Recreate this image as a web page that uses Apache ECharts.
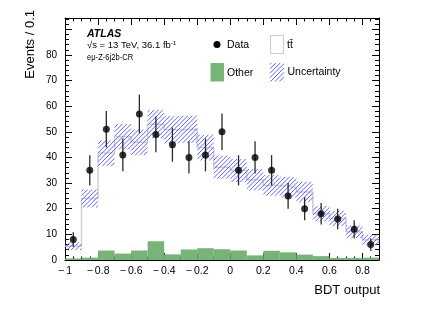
<!DOCTYPE html>
<html><head><meta charset="utf-8">
<script src="https://cdn.jsdelivr.net/npm/echarts@6/dist/echarts.min.js"></script>
<style>html,body{margin:0;padding:0;background:#fff}#c{width:432px;height:310px}</style>
</head><body><div id="c"></div>
<script>
// ---- data ----
const binEdges   = [-1,-0.9,-0.8,-0.7,-0.6,-0.5,-0.4,-0.3,-0.2,-0.1,0,0.1,0.2,0.3,0.4,0.5,0.6,0.7,0.8,0.9];
const dataCounts = [8,35,51,41,57,49,45,40,41,50,35,40,35,25,20,18,16,12,6];
const dataErr    = [2.8,5.9,7.1,6.4,7.5,7.0,6.7,6.3,6.4,7.1,5.9,6.3,5.9,5.0,4.5,4.2,4.0,3.5,2.4];
const totalPred  = [5.4,24,41.7,48.1,45.9,53,50.8,51,43.9,36.2,34.9,31.3,29.1,28.4,26.5,18.1,16.2,11,7.8];
const uncert     = [1.5,3.5,5,5,5,5.5,5.3,5.3,5,4.5,4.5,4.2,4,4,4,3,3,2.5,2];
const otherBkg   = [0.6,0.9,3.7,2.5,3.7,7.3,2.2,4.1,4.6,4.2,3.7,1.8,3.6,3.0,2.1,1.5,0.8,0.8,0.9];
const yTickMax = 80;

const FONT = 'Liberation Sans';
const HATCH_COLOR = '#6464ff';
const HATCH_STEP = 4.4;
const nb = dataCounts.length;
const lo = i => binEdges[i], hi = i => binEdges[i+1];
const centers = dataCounts.map((_, i) => (lo(i) + hi(i)) / 2);

// "/" hatch lines clipped to a pixel rectangle
function hatchLines(x0, y0, x1, y1) {
  const out = [];
  const cStart = Math.ceil((x0 + y0) / HATCH_STEP) * HATCH_STEP;
  for (let c = cStart; c <= x1 + y1; c += HATCH_STEP) {
    const ax = Math.max(x0, c - y1), bx = Math.min(x1, c - y0);
    if (bx - ax > 0.2) {
      out.push({type:'line', shape:{x1:ax, y1:c-ax, x2:bx, y2:c-bx},
                style:{stroke:HATCH_COLOR, lineWidth:1}});
    }
  }
  return out;
}

const stepPts = [];
for (let i = 0; i < nb; i++) { stepPts.push([lo(i), totalPred[i]]); stepPts.push([hi(i), totalPred[i]]); }

function rectItem(i, y0, y1, api, style) {
  const p0 = api.coord([lo(i), y0]);
  const p1 = api.coord([hi(i), y1]);
  return {type:'rect', shape:{x:p0[0], y:p1[1], width:p1[0]-p0[0], height:p0[1]-p1[1]}, style};
}

const fmtX = v => {
  const r = Math.round(v*10)/10;
  if (Math.abs(r - 0.9) < 1e-6) return '';
  return r < 0 ? '\u2212\u2009' + String(Math.abs(r)) : String(r);
};

const axisCommonX = {
  type:'value', min:-1, max:0.9, interval:0.2,
  axisLine:{show:true, onZero:false, lineStyle:{color:'#000', width:1}},
  axisTick:{show:true, inside:true, length:7, lineStyle:{color:'#000'}},
  minorTick:{show:true, splitNumber:4, length:3.5, lineStyle:{color:'#000'}},
  splitLine:{show:false}
};
const axisCommonY = {
  type:'value', min:0, max:94.4, interval:10,
  axisLine:{show:true, onZero:false, lineStyle:{color:'#000', width:1}},
  axisTick:{show:true, inside:true, length:7, lineStyle:{color:'#000'}},
  minorTick:{show:true, splitNumber:5, length:4, lineStyle:{color:'#000'}},
  splitLine:{show:false}
};

const legendHatch = hatchLines(270, 63, 284, 81.5);

const chart = echarts.init(document.getElementById('c'), null, {renderer:'canvas'});
chart.setOption({
  animation:false,
  backgroundColor:'#fff',
  grid:{left:65, right:53, top:18, bottom:50},
  xAxis:[
    Object.assign({}, axisCommonX, {position:'bottom',
      axisLabel:{show:true, formatter:fmtX, fontFamily:FONT, fontSize:10.5, color:'#000', margin:6, showMaxLabel:false}}),
    Object.assign({}, axisCommonX, {position:'top', axisLabel:{show:false}})
  ],
  yAxis:[
    Object.assign({}, axisCommonY, {position:'left',
      axisLabel:{show:true, fontFamily:FONT, fontSize:10, color:'#000', margin:8,
        formatter:v => v > yTickMax ? '' : String(v)}}),
    Object.assign({}, axisCommonY, {position:'right', axisLabel:{show:false}})
  ],
  series:[
    {type:'custom', name:'Other', z:1, data:otherBkg.map((v,i)=>[i,v]),
     renderItem:(p, api) => rectItem(p.dataIndex, 0, otherBkg[p.dataIndex], api, {fill:'#78b478'})},
    {type:'line', name:'ttbar', z:2, data:stepPts, symbol:'none',
     lineStyle:{color:'#cfcfcf', width:1.5}},
    {type:'custom', name:'Uncertainty', z:3, data:totalPred.map((v,i)=>[i,v]),
     renderItem:(p, api) => {
       const i = p.dataIndex;
       const a = api.coord([lo(i), totalPred[i]-uncert[i]]);
       const b = api.coord([hi(i), totalPred[i]+uncert[i]]);
       return {type:'group', children:hatchLines(a[0], b[1], b[0], a[1])};
     }},
    {type:'custom', name:'err', z:4, data:dataCounts.map((v,i)=>[centers[i],v]),
     renderItem:(p, api) => {
       const i = p.dataIndex;
       const a = api.coord([centers[i], dataCounts[i]-dataErr[i]]);
       const b = api.coord([centers[i], dataCounts[i]+dataErr[i]]);
       return {type:'line', shape:{x1:a[0], y1:a[1], x2:b[0], y2:b[1]}, style:{stroke:'#2a2a2a', lineWidth:1.3}};
     }},
    {type:'scatter', name:'Data', z:5, data:dataCounts.map((v,i)=>[centers[i],v]),
     symbol:'circle', symbolSize:7, itemStyle:{color:'#000'}}
  ],
  graphic:[
    {type:'text', x:30, y:10, rotation:Math.PI/2,
     style:{text:'Events / 0.1', font:'13px '+FONT, fill:'#000', textAlign:'right', textVerticalAlign:'middle'}},
    {type:'text', x:380, y:290,
     style:{text:'BDT output', font:'13px '+FONT, fill:'#000', textAlign:'right', textVerticalAlign:'middle'}},
    {type:'text', x:87, y:34,
     style:{text:'ATLAS', font:'italic bold 10.5px '+FONT, fill:'#000', textAlign:'left', textVerticalAlign:'middle'}},
    {type:'text', x:87, y:45,
     style:{rich:{a:{font:'9.5px '+FONT, fill:'#000'}, s:{font:'6px '+FONT, fill:'#000', verticalAlign:'top'}},
            text:'{a|\u221As = 13 TeV, 36.1 fb}{s|-1}', textAlign:'left', textVerticalAlign:'middle'}},
    {type:'text', x:87, y:57, scaleX:0.8,
     style:{text:'e\u03bc-Z-6j2b-CR', font:'9.5px '+FONT, fill:'#000', textAlign:'left', textVerticalAlign:'middle'}},
    // legend
    {type:'circle', shape:{cx:217, cy:44.5, r:3.5}, style:{fill:'#000'}},
    {type:'text', x:227, y:45, style:{text:'Data', font:'10.5px '+FONT, fill:'#000', textVerticalAlign:'middle'}},
    {type:'rect', shape:{x:270.5, y:35.5, width:13, height:18}, style:{fill:'#fff', stroke:'#cfcfcf', lineWidth:1.2}},
    {type:'text', x:287, y:45, style:{text:'tt\u0304', font:'10.5px '+FONT, fill:'#000', textVerticalAlign:'middle'}},
    {type:'rect', shape:{x:210.5, y:63, width:13.5, height:18.5}, style:{fill:'#78b478'}},
    {type:'text', x:227, y:73, style:{text:'Other', font:'10.5px '+FONT, fill:'#000', textVerticalAlign:'middle'}},
    {type:'group', children:legendHatch},
    {type:'text', x:287.5, y:72, style:{text:'Uncertainty', font:'10.5px '+FONT, fill:'#000', textVerticalAlign:'middle'}}
  ]
});
</script></body></html>
